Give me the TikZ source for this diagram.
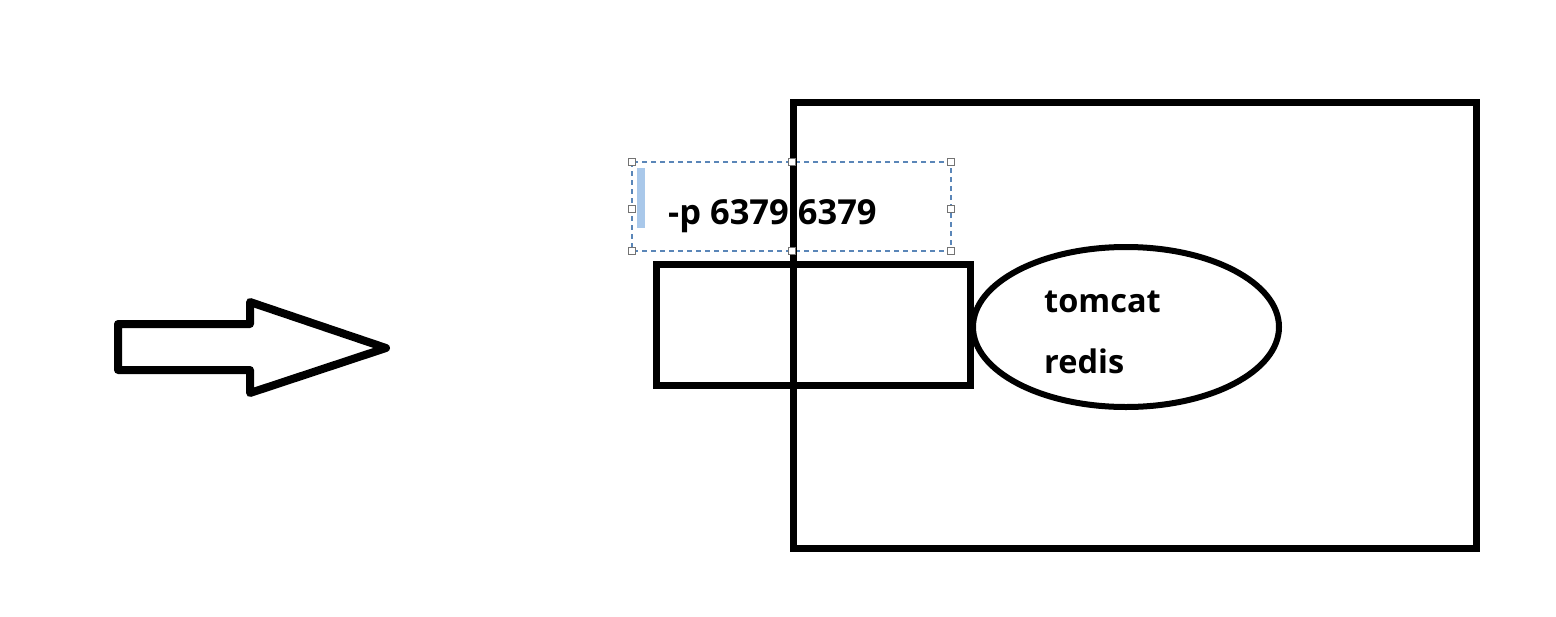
\documentclass[tikz,border=0pt]{standalone}
\usepackage{fontspec}
\setmainfont{Open Sans}
\definecolor{dashblue}{HTML}{5A86B8}
\definecolor{cursorblue}{HTML}{A9C8EA}
\begin{document}
\begin{tikzpicture}[x=1pt,y=-1pt,
  thick line/.style={draw=black,line width=7pt},
  boxnode/.style={thick line,rectangle,anchor=north west,inner sep=0pt,outer sep=0pt},
  labeltext/.style={font=\bfseries\fontsize{32.5}{38}\selectfont,inner sep=0pt,anchor=base west},
  handle/.style={draw=gray!90!black,fill=white,line width=0.9pt,minimum size=7pt,inner sep=0pt,rectangle}]
\useasboundingbox (0,0) rectangle (1556,616);
\fill[white] (0,0) rectangle (1556,616);
% arrow
\draw[line width=8pt,line join=round] (118,324) -- (250,324) -- (250,302) -- (386,348) -- (250,393) -- (250,370) -- (118,370) -- cycle;
% dashed text box
\draw[draw=dashblue,line width=1.1pt,dash pattern=on 5pt off 4pt] (632,162) rectangle (951,251);
\fill[cursorblue] (637,168) rectangle (645,228);
\node[labeltext,font=\bfseries\fontsize{34.5}{40}\selectfont] (port) at (668,224) {-p 6379 6379};
% small rectangle
\node[boxnode,minimum width=314pt,minimum height=121pt] (small) at (656,264) {};
% big rectangle
\node[boxnode,minimum width=683pt,minimum height=446pt] (big) at (793,102) {};
% ellipse
\draw[line width=6pt] (1126,327) ellipse [x radius=153, y radius=80];
\node[labeltext] (tomcat) at (1044,312) {tomcat};
\node[labeltext] (redis) at (1044,373) {redis};
% handles
\foreach \p in {(632,162),(792,162),(951,162),(632,209),(951,209),(632,251),(792,251),(951,251)}
  \node[handle] at \p {};
\end{tikzpicture}
\end{document}
